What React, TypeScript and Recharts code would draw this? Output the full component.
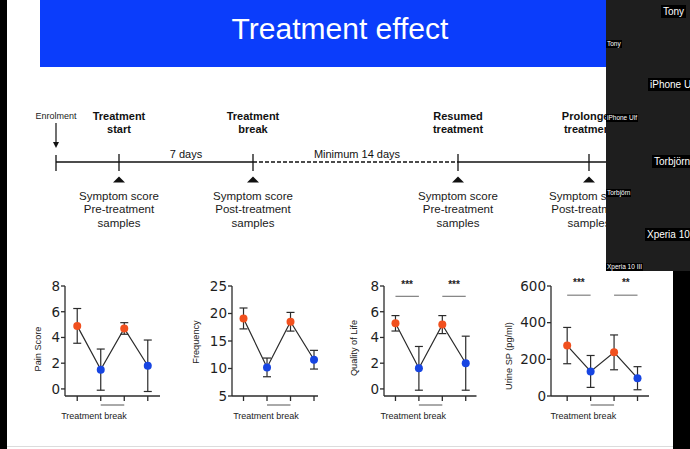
import { LineChart, Line, XAxis, YAxis, ErrorBar, ReferenceLine } from "recharts";

// four visits: pre-treatment, post-treatment (break), resumed, prolonged
const visits = [1, 2, 3, 4];
const visitPhase = ["on", "off", "on", "off"];

const painMean = [4.9, 1.5, 4.7, 1.8];
const painSd = [1.35, 1.6, 0.45, 2.0];
const painTicks = [0, 2, 4, 6, 8];

const freqMean = [19.1, 10.2, 18.5, 11.6];
const freqSd = [1.9, 1.7, 1.7, 1.7];
const freqTicks = [5, 10, 15, 20, 25];

const qolMean = [5.1, 1.6, 5.0, 2.0];
const qolSd = [0.6, 1.7, 0.7, 2.1];
const qolTicks = [0, 2, 4, 6, 8];
const qolStars = ["***", "***"];

const spMean = [275, 134, 238, 97];
const spSd = [99, 87, 95, 63];
const spTicks = [0, 200, 400, 600];
const spStars = ["***", "**"];

const milestoneTitles = [
  ["Treatment", "start"],
  ["Treatment", "break"],
  ["Resumed", "treatment"],
  ["Prolonged", "treatment"],
];
const milestoneNotes = [
  ["Symptom score", "Pre-treatment", "samples"],
  ["Symptom score", "Post-treatment", "samples"],
  ["Symptom score", "Pre-treatment", "samples"],
  ["Symptom score", "Post-treatment", "samples"],
];
const intervalLabels = ["7 days", "Minimum 14 days"];
const participants = ["Tony", "iPhone Ulf", "Torbjörn", "Xperia 10 III"];

const ORANGE = "#f1501e";
const BLUE = "#1745e2";
const INK = "#2b2b2b";
const SANS = "'Liberation Sans', Arial, sans-serif";

// layout of the slide (pixels)
const milestoneX = [119, 253, 458, 589];
const enrolX = 56;
const lineY = 162;

function Timeline() {
  return (
    <svg width={690} height={449} style={{ position: "absolute", left: 0, top: 0 }} fontFamily={SANS}>
      <rect width={690} height={449} fill="#fff" />
      <rect x={0} y={0} width={7} height={449} fill="#000" />
      <line x1={7} x2={690} y1={446.5} y2={446.5} stroke="#dcdcdc" />
      <rect x={40} y={0} width={620} height={67} fill="#0b3dfb" />
      <text x={340} y={39} textAnchor="middle" fontSize={30} fill="#fff">
        Treatment effect
      </text>

      <text x={enrolX} y={119} textAnchor="middle" fontSize={9} fill="#222">
        Enrolment
      </text>
      <line x1={enrolX} x2={enrolX} y1={123} y2={143} stroke="#111" strokeWidth={1.2} />
      <polygon points={`${enrolX - 3},142 ${enrolX + 3},142 ${enrolX},148`} fill="#111" />

      <line x1={enrolX} x2={milestoneX[1]} y1={lineY} y2={lineY} stroke="#111" strokeWidth={1.3} />
      <line x1={milestoneX[1]} x2={milestoneX[2]} y1={lineY} y2={lineY} stroke="#111" strokeWidth={1.3} strokeDasharray="4 2" />
      <line x1={milestoneX[2]} x2={640} y1={lineY} y2={lineY} stroke="#111" strokeWidth={1.3} />
      <line x1={enrolX} x2={enrolX} y1={155} y2={171} stroke="#111" strokeWidth={1.3} />

      <text x={186} y={158} textAnchor="middle" fontSize={11} fill="#111">{intervalLabels[0]}</text>
      <text x={357} y={158} textAnchor="middle" fontSize={11} fill="#111">{intervalLabels[1]}</text>

      {milestoneX.map((x, i) => (
        <g key={i}>
          <line x1={x} x2={x} y1={154} y2={171} stroke="#111" strokeWidth={1.3} />
          <polygon points={`${x - 6},182.5 ${x + 6},182.5 ${x},176.5`} fill="#111" />
          {milestoneTitles[i].map((t, j) => (
            <text key={t} x={x} y={120 + j * 13} textAnchor="middle" fontSize={11} fontWeight="bold" fill="#111">
              {t}
            </text>
          ))}
          {milestoneNotes[i].map((t, j) => (
            <text key={t} x={x} y={199.5 + j * 13.5} textAnchor="middle" fontSize={11.5} fill="#1a1a1a">
              {t}
            </text>
          ))}
        </g>
      ))}
    </svg>
  );
}

type PanelProps = {
  plotLeft: number;
  plotW: number;
  xDomain: [number, number];
  means: number[];
  sds: number[];
  ticks: number[];
  yDomain: [number, number];
  yLabel: string;
  yLabelDx: number;
  yLabelDy: number;
  xLabelDx: number;
  stars?: string[];
  starY?: number;
  starOffset?: number;
};

function Panel(p: PanelProps) {
  const data = visits.map((v, i) => ({ visit: v, mean: p.means[i], sd: p.sds[i], phase: visitPhase[i] }));
  const step = p.plotW / (p.xDomain[1] - p.xDomain[0]);
  const axisStyle = { stroke: INK, strokeWidth: 1.3 };

  const renderTick = (t: any) =>
    t.payload.value === 2 ? (
      <line x1={t.x} x2={t.x + step} y1={t.y + 2} y2={t.y + 2} stroke="#555" strokeWidth={1} />
    ) : (
      <g />
    );

  const renderDot = (d: any) => (
    <circle key={d.index} cx={d.cx} cy={d.cy} r={4} fill={d.payload.phase === "on" ? ORANGE : BLUE} />
  );

  return (
    <div style={{ position: "absolute", left: p.plotLeft - 60, top: 270 }}>
      <LineChart
        width={p.plotW + 68}
        height={160}
        data={data}
        margin={{ top: 16, right: 8, bottom: 4, left: 0 }}
      >
        <XAxis
          type="number"
          dataKey="visit"
          domain={p.xDomain}
          ticks={visits}
          interval={0}
          allowDataOverflow
          height={30}
          tickSize={5}
          tickMargin={2}
          tick={renderTick}
          axisLine={axisStyle}
          tickLine={axisStyle}
          label={{
            value: "Treatment break",
            position: "insideBottom",
            offset: 7,
            dx: p.xLabelDx,
            style: { fontFamily: SANS, fontSize: 9, fill: "#222" },
          }}
        />
        <YAxis
          type="number"
          width={60}
          domain={p.yDomain}
          ticks={p.ticks}
          interval={0}
          allowDataOverflow
          tickSize={4}
          tickMargin={1}
          axisLine={axisStyle}
          tickLine={axisStyle}
          tick={{ fontFamily: "'DejaVu Sans', sans-serif", fontSize: 13.5, fill: "#1e1e1e" }}
          label={{
            value: p.yLabel,
            angle: -90,
            position: "center",
            dx: p.yLabelDx,
            dy: p.yLabelDy,
            style: { fontFamily: SANS, fontSize: 9.2, fill: "#222" },
          }}
        />
        {p.stars &&
          p.stars.map((s, i) => (
            <ReferenceLine
              key={i}
              segment={[
                { x: visits[i * 2], y: p.starY },
                { x: visits[i * 2 + 1], y: p.starY },
              ]}
              stroke="#666"
              strokeWidth={1}
              ifOverflow="visible"
              label={{
                value: s,
                position: "top",
                offset: p.starOffset,
                style: { fontFamily: SANS, fontSize: 10, fontWeight: "bold", fill: "#222" },
              }}
            />
          ))}
        <Line
          type="linear"
          dataKey="mean"
          stroke={INK}
          strokeWidth={1.2}
          dot={renderDot}
          activeDot={false}
          isAnimationActive={false}
        >
          <ErrorBar dataKey="sd" direction="y" width={4} stroke={INK} strokeWidth={1.2} />
        </Line>
      </LineChart>
    </div>
  );
}

function CallPanel() {
  const bigTop = [5, 78, 155, 228];
  const bigLeft = [661, 648, 652, 645];
  const smallTop = [40, 114, 189, 263];
  return (
    <>
      <div style={{ position: "absolute", left: 606, top: 0, width: 84, height: 271, background: "#1e1e1e", overflow: "hidden" }}>
        {participants.map((n, i) => (
          <div key={n}>
            <div
              style={{
                position: "absolute",
                left: bigLeft[i] - 606,
                top: bigTop[i],
                background: "#000",
                color: "#fff",
                fontFamily: SANS,
                fontSize: 10,
                lineHeight: "13px",
                padding: "0 2px",
                whiteSpace: "nowrap",
              }}
            >
              {n}
            </div>
            <div
              style={{
                position: "absolute",
                left: 0,
                top: smallTop[i],
                background: "#000",
                color: "#fff",
                fontFamily: SANS,
                fontSize: 6.5,
                lineHeight: "8px",
                padding: "0 1px",
                whiteSpace: "nowrap",
              }}
            >
              {n}
            </div>
          </div>
        ))}
      </div>
      <div style={{ position: "absolute", left: 673, top: 271, width: 17, height: 178, background: "#000" }} />
    </>
  );
}

export default function App() {
  return (
    <div style={{ position: "absolute", left: 0, top: 0, width: 690, height: 449, overflow: "hidden" }}>
      <Timeline />
      <Panel
        plotLeft={65}
        plotW={95}
        xDomain={[0.48, 4.52]}
        means={painMean}
        sds={painSd}
        ticks={painTicks}
        yDomain={[-0.55, 8]}
        yLabel="Pain Score"
        yLabelDx={3}
        yLabelDy={8}
        xLabelDx={-18.5}
      />
      <Panel
        plotLeft={232}
        plotW={86}
        xDomain={[0.51, 4.17]}
        means={freqMean}
        sds={freqSd}
        ticks={freqTicks}
        yDomain={[5, 25]}
        yLabel="Frequency"
        yLabelDx={-6.7}
        yLabelDy={1}
        xLabelDx={-9}
      />
      <Panel
        plotLeft={384}
        plotW={92.5}
        xDomain={[0.51, 4.46]}
        means={qolMean}
        sds={qolSd}
        ticks={qolTicks}
        yDomain={[-0.55, 8]}
        yLabel="Quality of Life"
        yLabelDx={0}
        yLabelDy={7}
        xLabelDx={-17}
        stars={qolStars}
        starY={7.2}
        starOffset={8}
      />
      <Panel
        plotLeft={551}
        plotW={98}
        xDomain={[0.31, 4.49]}
        means={spMean}
        sds={spSd}
        ticks={spTicks}
        yDomain={[0, 600]}
        yLabel="Urine SP (pg/ml)"
        yLabelDx={-12}
        yLabelDy={15}
        xLabelDx={-16.7}
        stars={spStars}
        starY={550}
        starOffset={9}
      />
      <CallPanel />
    </div>
  );
}
